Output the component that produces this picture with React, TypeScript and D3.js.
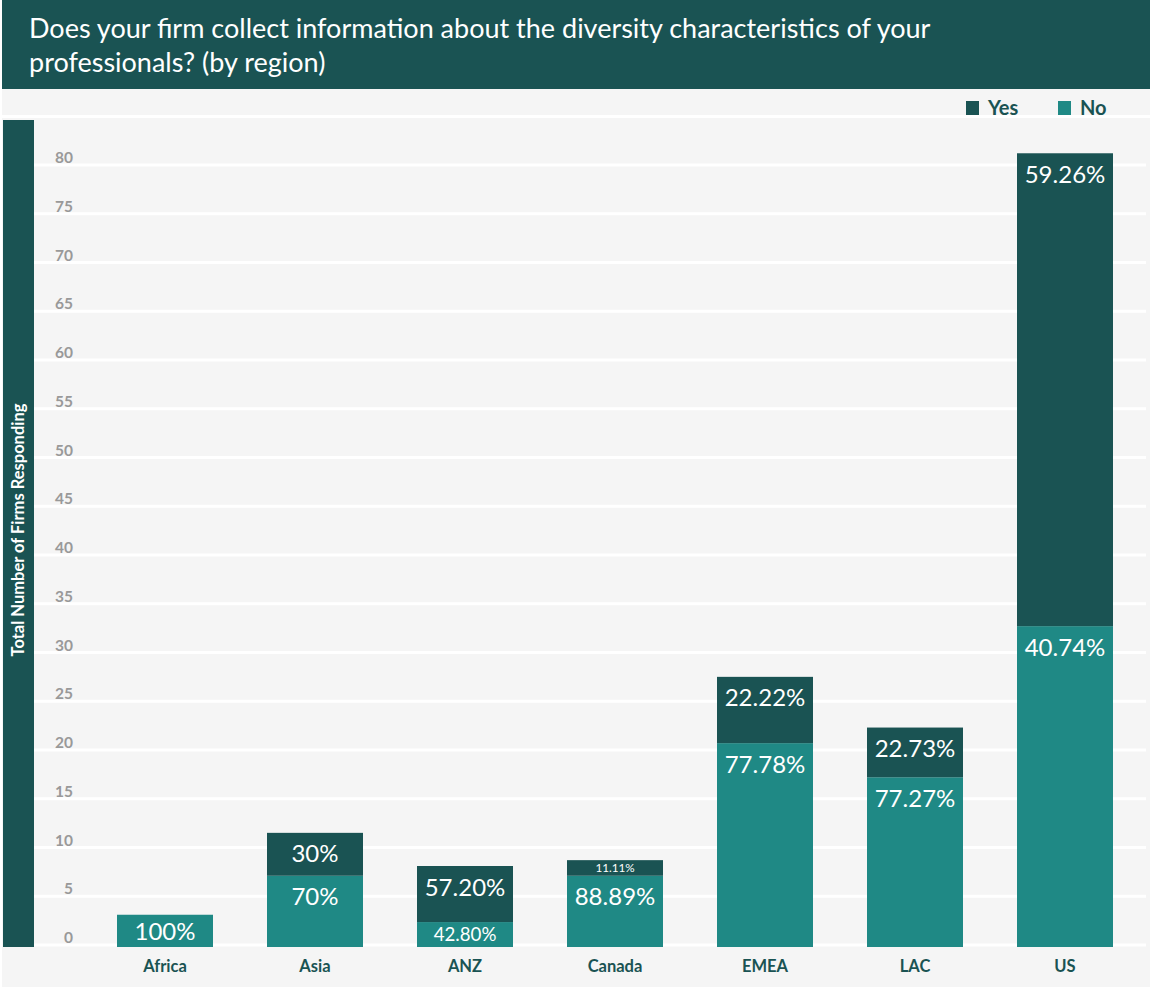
import React, { useEffect, useRef } from "react";
import * as d3 from "d3";

const categories = ["Africa", "Asia", "ANZ", "Canada", "EMEA", "LAC", "US"];
const noValues = [3, 7, 2.25, 7, 20.6, 17.1, 32.6];
const yesValues = [0, 4.4, 5.75, 1.6, 6.8, 5.1, 48.5];
const noLabels = ["100%", "70%", "42.80%", "88.89%", "77.78%", "77.27%", "40.74%"];
const yesLabels = ["", "30%", "57.20%", "11.11%", "22.22%", "22.73%", "59.26%"];
const yTicks = [0, 5, 10, 15, 20, 25, 30, 35, 40, 45, 50, 55, 60, 65, 70, 75, 80];
const seriesNames = ["Yes", "No"];

const W = 1152;
const H = 989;
const DARK = "#1a5353";
const TEAL = "#1f8985";
const FONT = "Lato, 'Open Sans', sans-serif";

export default function App() {
  const ref = useRef<SVGSVGElement>(null);

  useEffect(() => {
    document.body.style.margin = "0";
    const svg = d3.select(ref.current);
    svg.selectAll("*").remove();

    svg.append("rect").attr("width", W).attr("height", H).attr("fill", "#ffffff");
    svg.append("rect").attr("x", 2).attr("y", 89).attr("width", W - 4).attr("height", H - 91).attr("fill", "#f5f5f5");

    // title bar
    svg.append("rect").attr("x", 2).attr("y", 0).attr("width", W - 4).attr("height", 89).attr("fill", DARK);
    const title = svg.append("text").attr("fill", "#ffffff").attr("font-family", FONT)
      .attr("font-size", 27).attr("font-weight", 400);
    title.append("tspan").attr("x", 29).attr("y", 38)
      .text("Does your firm collect information about the diversity characteristics of your");
    title.append("tspan").attr("x", 29).attr("y", 72).text("professionals? (by region)");

    // separator under legend row
    svg.append("rect").attr("x", 2).attr("y", 115).attr("width", W - 4).attr("height", 3).attr("fill", "#ffffff");

    // legend
    const legendX = [966, 1058];
    seriesNames.forEach((name, i) => {
      svg.append("rect").attr("x", legendX[i]).attr("y", 101).attr("width", 13).attr("height", 14)
        .attr("fill", i === 0 ? DARK : TEAL);
      svg.append("text").attr("x", legendX[i] + 22).attr("y", 115).attr("fill", DARK)
        .attr("font-family", FONT).attr("font-weight", 700).attr("font-size", 20).text(name);
    });

    const y = d3.scaleLinear().domain([0, 80]).range([944, 164]);
    const x = d3.scaleBand().domain(categories).range([90, 1140]).paddingInner(0.36).paddingOuter(0.18);

    // gridlines
    const g = svg.append("g");
    g.selectAll("line.grid").data(yTicks).join("line")
      .attr("x1", 33).attr("x2", 1146)
      .attr("y1", (d) => y(d) + 1).attr("y2", (d) => y(d) + 1)
      .attr("stroke", "#ffffff").attr("stroke-width", 3);

    g.selectAll("text.tick").data(yTicks).join("text")
      .attr("x", 73).attr("y", (d) => y(d) - 1)
      .attr("text-anchor", "end").attr("fill", "#999999")
      .attr("font-family", FONT).attr("font-weight", 700).attr("font-size", 15.5)
      .text((d) => String(d));

    // y-axis title bar
    svg.append("rect").attr("x", 3).attr("y", 120).attr("width", 31).attr("height", 827).attr("fill", DARK);
    svg.append("text").attr("transform", `translate(24, 530) rotate(-90)`)
      .attr("text-anchor", "middle").attr("fill", "#ffffff")
      .attr("font-family", FONT).attr("font-weight", 700).attr("font-size", 16.5)
      .text("Total Number of Firms Responding");

    const base = 947;
    const bars = svg.append("g");
    categories.forEach((c, i) => {
      const x0 = x(c)!;
      const bw = x.bandwidth();
      const noTop = y(noValues[i]);
      const yesTop = y(noValues[i] + yesValues[i]);
      bars.append("rect").attr("x", x0).attr("y", noTop).attr("width", bw).attr("height", base - noTop).attr("fill", TEAL);
      if (yesValues[i] > 0) {
        bars.append("rect").attr("x", x0).attr("y", yesTop).attr("width", bw).attr("height", noTop - yesTop).attr("fill", DARK);
      }
      const addLabel = (top: number, bottom: number, label: string) => {
        if (!label) return;
        const h = bottom - top;
        const fs = Math.min(24, h * 0.75);
        const cy = top + Math.min(21, h / 2);
        bars.append("text").attr("x", x0 + bw / 2).attr("y", cy)
          .attr("dy", "0.36em").attr("text-anchor", "middle").attr("fill", "#ffffff")
          .attr("font-family", FONT).attr("font-weight", 400).attr("font-size", fs).text(label);
      };
      addLabel(noTop, base, noLabels[i]);
      if (yesValues[i] > 0) addLabel(yesTop, noTop, yesLabels[i]);

      svg.append("text").attr("x", x0 + bw / 2).attr("y", 972).attr("text-anchor", "middle")
        .attr("fill", DARK).attr("font-family", FONT).attr("font-weight", 700).attr("font-size", 16.5)
        .text(c);
    });
  }, []);

  return <svg ref={ref} width={W} height={H} style={{ display: "block" }} />;
}
